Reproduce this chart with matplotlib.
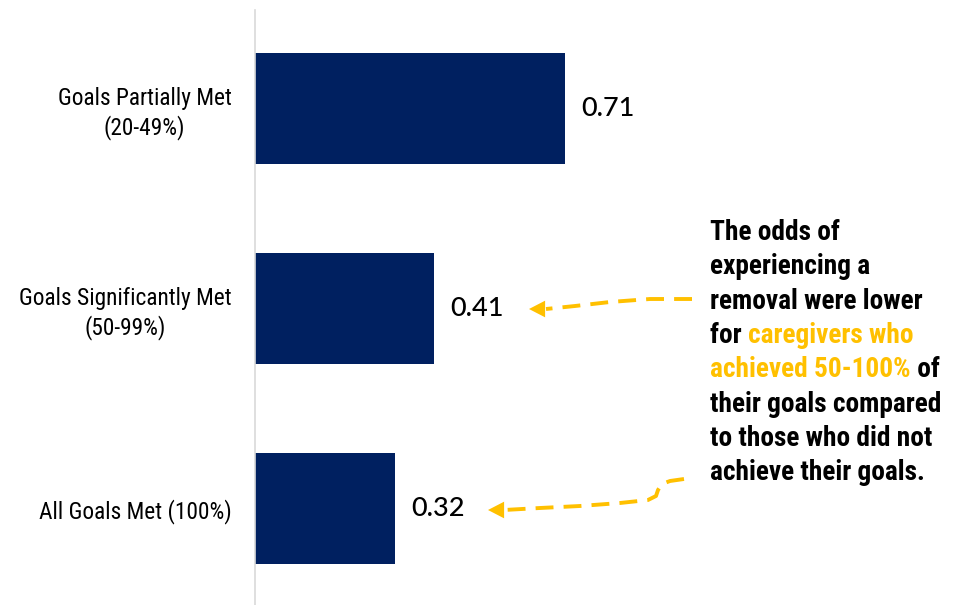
import matplotlib.pyplot as plt
from matplotlib import font_manager as fm
from matplotlib.lines import Line2D
from matplotlib.patches import FancyArrowPatch

categories = ['Goals Partially Met\n(20-49%)', 'Goals Significantly Met\n(50-99%)', 'All Goals Met (100%)']
odds = [0.71, 0.41, 0.32]
value_labels = ['0.71', '0.41', '0.32']

# callout text: list of lines, each line a list of (text, highlighted)
callout = [
    [('The odds of', False)],
    [('experiencing a', False)],
    [('removal were lower', False)],
    [('for ', False), ('caregivers who', True)],
    [('achieved 50-100%', True), (' of', False)],
    [('their goals compared', False)],
    [('to those who did not', False)],
    [('achieve their goals.', False)],
]

NAVY = '#002060'
GOLD = '#FFC000'
W, H = 959, 605


def pick(cands, **kw):
    for c in cands:
        try:
            fm.findfont(fm.FontProperties(family=c, **kw), fallback_to_default=False)
            return c
        except ValueError:
            pass
    return 'DejaVu Sans'


NARROW = pick(['Roboto Condensed', 'Liberation Sans Narrow', 'DejaVu Sans Condensed',
               'Roboto', 'Liberation Sans'])


def px(x, y):
    return (x / W, 1 - y / H)


fig = plt.figure(figsize=(W / 100, H / 100), dpi=100)
renderer = fig.canvas.get_renderer()


def fit_size(text, target, weight='normal', family=NARROW, base=20):
    t = fig.text(0, 0, text, fontsize=base, family=family, fontweight=weight)
    w = t.get_window_extent(renderer=renderer).width
    t.remove()
    return base * target / w


tick_fs = fit_size('Goals Significantly Met', 212)
call_fs = fit_size('removal were lower', 213, weight='bold')

ax = fig.add_axes([255 / W, 0, 437 / W, 595 / H])

pos = list(range(len(categories)))
bars = ax.barh(pos, odds, height=0.555, color=NAVY)
ax.set_ylim(2.4825, -0.4925)
ax.set_xlim(0, 1.0)
ax.set_xticks([])
ax.set_yticks(pos, categories, fontsize=tick_fs, family=NARROW)
for lbl in ax.get_yticklabels():
    lbl.set_multialignment('center')
    lbl.set_linespacing(1.25)
ax.tick_params(axis='y', length=0, pad=17)
for s in ['top', 'right', 'bottom']:
    ax.spines[s].set_visible(False)
ax.spines['left'].set_color('#d9d9d9')
ax.spines['left'].set_linewidth(1.2)

ax.bar_label(bars, labels=value_labels, padding=11.5, fontsize=19.5, fontweight='medium',
             family=['Lato', 'DejaVu Sans'])

# callout text
for i, line in enumerate(callout):
    x0 = 710
    ybase = 240 + 34.3 * i
    for txt, hi in line:
        t = fig.text(*px(x0, ybase), txt, fontsize=call_fs, fontweight='bold', family=NARROW,
                     color=GOLD if hi else 'black', ha='left', va='baseline')
        x0 += t.get_window_extent(renderer=renderer).width


# dashed arrows
def dashed_arrow(points, tip):
    xs = [px(*p)[0] for p in points]
    ys = [px(*p)[1] for p in points]
    fig.add_artist(Line2D(xs, ys, transform=fig.transFigure, color=GOLD, lw=2.8,
                          linestyle=(0, (4.6, 2.6)), dash_capstyle='butt',
                          solid_joinstyle='round'))
    fig.add_artist(FancyArrowPatch(px(*points[-1]), px(*tip), transform=fig.transFigure,
                                   arrowstyle='-|>,head_length=0.58,head_width=0.3',
                                   mutation_scale=20, color=GOLD, lw=0,
                                   shrinkA=0, shrinkB=0))


dashed_arrow([(692, 299), (650, 299), (610, 302), (575, 306), (546, 309)], (529, 309))
dashed_arrow([(684, 479), (670, 481), (662, 484), (658, 490), (656, 496), (648, 500),
              (620, 503), (580, 506), (540, 508), (504, 510)], (488, 510))

fig.savefig('out.png', dpi=100)
